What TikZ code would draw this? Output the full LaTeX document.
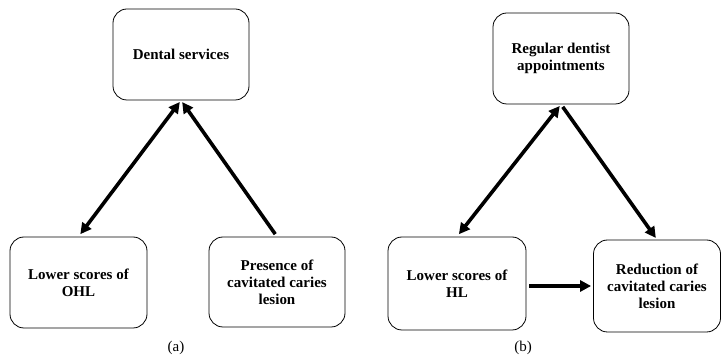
\documentclass[tikz,border=0pt]{standalone}
\usepackage{fontspec}
\setmainfont{Liberation Serif}
\usepackage{tikz}
\usetikzlibrary{shapes, arrows.meta, positioning}
\tikzstyle{factor} = [rectangle, rounded corners=14pt, minimum width=136pt, minimum height=91pt, text centered, align=center, draw=black, line width=0.8pt, font=\fontsize{15}{17}\selectfont\bfseries]
\tikzstyle{arrow} = [line width=3.6pt, ->, >={Triangle[length=11pt,width=11pt]}, shorten >=2pt, shorten <=3pt]
\tikzstyle{darrow} = [line width=3.6pt, <->, >={Triangle[length=11pt,width=11pt]}, shorten >=2pt, shorten <=3pt]
\tikzstyle{caption} = [font=\fontsize{15}{17}\selectfont]

\begin{document}
\begin{tikzpicture}[x=1pt, y=-1pt]
\useasboundingbox (0,0) rectangle (721,363);
% (a)
\node (dental) [factor] at (181,54.5) {Dental services};
\node (ohl) [factor, minimum width=137pt] at (78.5,282.5) {Lower scores of\\OHL};
\node (presence) [factor, minimum height=90pt] at (277,282) {Presence of\\cavitated caries\\lesion};
\node (capa) [caption] at (176,348) {(a)};

\draw [darrow] (ohl.north) -- (dental.south);
\draw [arrow] (presence.north) -- (dental.south);

% (b)
\node (regular) [factor] at (561,58.5) {Regular dentist\\appointments};
\node (hl) [factor, minimum width=138pt, minimum height=93pt] at (457,283.5) {Lower scores of\\HL};
\node (reduction) [factor, minimum width=127pt, minimum height=92pt] at (657,286) {Reduction of\\cavitated caries\\lesion};
\node (capb) [caption] at (523,348) {(b)};

\draw [darrow] (hl.north) -- (regular.south);
\draw [arrow] (regular.south) -- (reduction.north);
\draw [arrow] (hl.east |- reduction.west) -- (reduction.west);
\end{tikzpicture}
\end{document}
